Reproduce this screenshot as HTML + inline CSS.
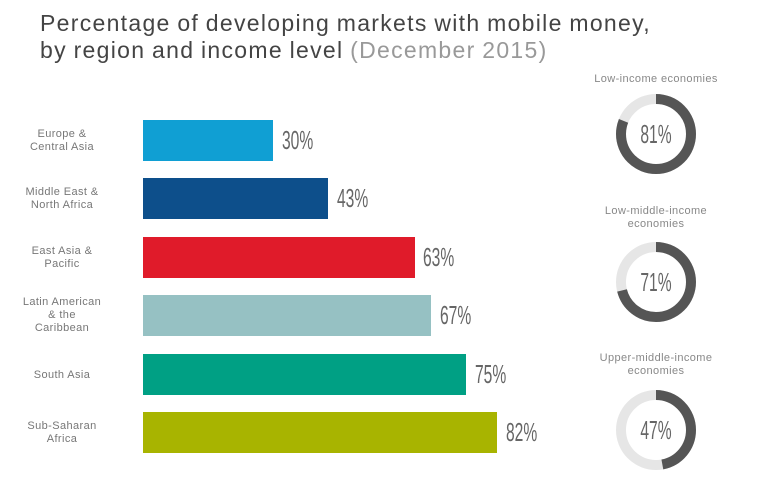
<!DOCTYPE html>
<html><head><style>
body{margin:0;width:768px;height:486px;background:#fff;position:relative;overflow:hidden;font-family:"Liberation Sans",sans-serif}
.t{position:absolute;left:40px;top:10px;font-size:23px;line-height:27px;color:#444;letter-spacing:1.3px;word-spacing:-1px}
.t span{color:#999}
.lab{position:absolute;width:124px;left:0;text-align:center;font-size:11px;line-height:13px;color:#777;letter-spacing:0.4px}
.bar{position:absolute;left:143px;height:41px}
.p{position:absolute;font-size:26px;color:#666;transform:scaleX(0.6);transform-origin:left center;font-weight:300;line-height:41px}
.h{position:absolute;width:200px;left:556px;text-align:center;font-size:11px;line-height:13px;color:#888;letter-spacing:0.4px}
</style></head><body>
<div class="t">Percentage of developing markets with mobile money,<br>by region and income level <span>(December 2015)</span></div>

<div class="lab" style="top:128px">Europe &amp;<br>Central Asia</div>
<div class="bar" style="top:120px;width:130px;background:#109fd3"></div>
<div class="p" style="top:120px;left:282px">30%</div>

<div class="lab" style="top:186px">Middle East &amp;<br>North Africa</div>
<div class="bar" style="top:178px;width:185px;background:#0d4f8b"></div>
<div class="p" style="top:178px;left:337px">43%</div>

<div class="lab" style="top:245px">East Asia &amp;<br>Pacific</div>
<div class="bar" style="top:237px;width:272px;background:#e01b2a"></div>
<div class="p" style="top:237px;left:423px">63%</div>

<div class="lab" style="top:296px">Latin American<br>&amp; the<br>Caribbean</div>
<div class="bar" style="top:295px;width:288px;background:#96c1c3"></div>
<div class="p" style="top:295px;left:440px">67%</div>

<div class="lab" style="top:369px">South Asia</div>
<div class="bar" style="top:354px;width:323px;background:#00a084"></div>
<div class="p" style="top:354px;left:475px">75%</div>

<div class="lab" style="top:420px">Sub-Saharan<br>Africa</div>
<div class="bar" style="top:412px;width:354px;background:#a8b400"></div>
<div class="p" style="top:412px;left:506px">82%</div>

<div class="h" style="top:73px">Low-income economies</div>
<div class="h" style="top:205px">Low-middle-income<br>economies</div>
<div class="h" style="top:352px">Upper-middle-income<br>economies</div>

<svg width="768" height="486" style="position:absolute;left:0;top:0">
<g fill="none" stroke-width="10">
<circle cx="656" cy="134" r="35" stroke="#e6e6e6"/>
<circle cx="656" cy="134" r="35" stroke="#555" stroke-dasharray="178.1 220" transform="rotate(-90 656 134)"/>
<circle cx="656" cy="282" r="35" stroke="#e6e6e6"/>
<circle cx="656" cy="282" r="35" stroke="#555" stroke-dasharray="156.1 220" transform="rotate(-90 656 282)"/>
<circle cx="656" cy="430" r="35" stroke="#e6e6e6"/>
<circle cx="656" cy="430" r="35" stroke="#555" stroke-dasharray="103.4 220" transform="rotate(-90 656 430)"/>
</g>
<g font-family="Liberation Sans" font-size="26" fill="#666" text-anchor="middle">
<text x="656" y="143" transform="translate(656 0) scale(0.6 1) translate(-656 0)">81%</text>
<text x="656" y="291" transform="translate(656 0) scale(0.6 1) translate(-656 0)">71%</text>
<text x="656" y="439" transform="translate(656 0) scale(0.6 1) translate(-656 0)">47%</text>
</g>
</svg>
</body></html>
